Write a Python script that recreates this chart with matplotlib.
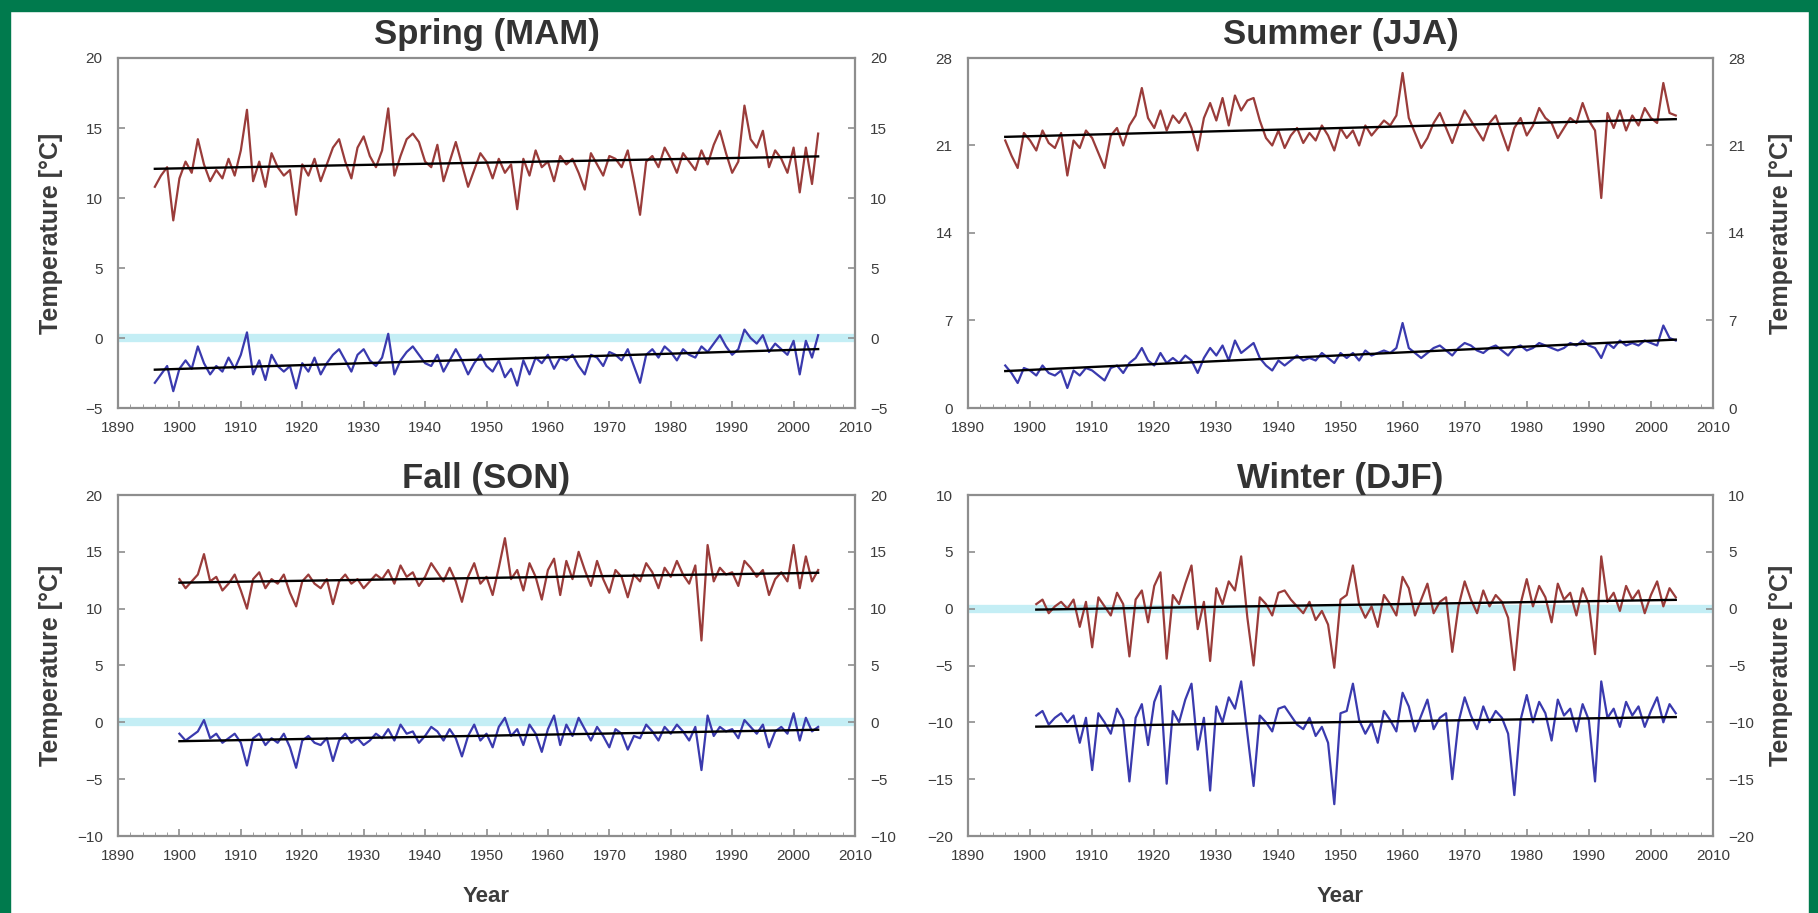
import numpy as np
import matplotlib.pyplot as plt
from matplotlib.patches import Rectangle
from matplotlib.ticker import MultipleLocator

plt.rcParams['font.family'] = ['Liberation Sans', 'DejaVu Sans']

# seasonal max (red) and min (blue) temperatures, one value per year
spring_years = np.arange(1896, 2005)
spring_tmax = [
    10.8, 11.6, 12.2, 8.4, 11.4, 12.6, 11.8, 14.2, 12.4, 11.2,
    12.0, 11.4, 12.8, 11.6, 13.4, 16.3, 11.2, 12.6, 10.8, 13.2,
    12.2, 11.6, 12.0, 8.8, 12.4, 11.6, 12.8, 11.2, 12.4, 13.6,
    14.2, 12.6, 11.4, 13.6, 14.4, 13.0, 12.2, 13.4, 16.4, 11.6,
    13.0, 14.2, 14.6, 14.0, 12.6, 12.2, 13.8, 11.2, 12.6, 14.0,
    12.4, 10.8, 12.0, 13.2, 12.6, 11.4, 12.8, 11.8, 12.4, 9.2,
    12.8, 11.6, 13.4, 12.2, 12.6, 11.2, 13.0, 12.4, 12.8, 11.8,
    10.6, 13.2, 12.4, 11.6, 13.0, 12.8, 12.2, 13.4, 11.2, 8.8,
    12.6, 13.0, 12.2, 13.6, 12.8, 11.8, 13.2, 12.6, 12.0, 13.4,
    12.4, 13.8, 14.8, 13.2, 11.8, 12.6, 16.6, 14.2, 13.6, 14.8,
    12.2, 13.4, 12.8, 11.8, 13.6, 10.4, 13.6, 11.0, 14.6,
]
spring_tmin = [
    -3.2, -2.6, -2.0, -3.8, -2.2, -1.6, -2.2, -0.6, -1.8, -2.6,
    -2.0, -2.4, -1.4, -2.2, -1.2, 0.4, -2.6, -1.6, -3.0, -1.2,
    -2.0, -2.4, -2.0, -3.6, -1.8, -2.4, -1.4, -2.6, -1.8, -1.2,
    -0.8, -1.6, -2.4, -1.2, -0.8, -1.6, -2.0, -1.4, 0.3, -2.6,
    -1.6, -1.0, -0.6, -1.2, -1.8, -2.0, -1.2, -2.4, -1.6, -0.8,
    -1.6, -2.6, -1.8, -1.2, -2.0, -2.4, -1.6, -2.8, -2.2, -3.4,
    -1.6, -2.6, -1.4, -1.8, -1.2, -2.2, -1.4, -1.6, -1.2, -2.0,
    -2.6, -1.2, -1.4, -2.0, -1.0, -1.2, -1.6, -0.8, -2.0, -3.2,
    -1.2, -0.8, -1.4, -0.6, -1.0, -1.6, -0.8, -1.2, -1.4, -0.6,
    -1.0, -0.4, 0.2, -0.6, -1.2, -0.8, 0.6, 0.0, -0.4, 0.2,
    -1.0, -0.4, -0.8, -1.2, -0.2, -2.6, -0.2, -1.4, 0.2,
]

summer_years = np.arange(1896, 2005)
summer_tmax = [
    21.4, 20.2, 19.2, 22.0, 21.4, 20.6, 22.2, 21.2, 20.8, 22.0,
    18.6, 21.4, 20.8, 22.2, 21.6, 20.4, 19.2, 21.8, 22.4, 21.0,
    22.6, 23.4, 25.6, 23.2, 22.4, 23.8, 22.2, 23.4, 22.8, 23.6,
    22.4, 20.6, 23.2, 24.4, 23.0, 24.8, 22.6, 25.0, 23.8, 24.6,
    24.8, 23.0, 21.6, 21.0, 22.2, 20.8, 21.8, 22.4, 21.2, 22.0,
    21.4, 22.6, 21.8, 20.6, 22.4, 21.6, 22.2, 21.0, 22.6, 21.8,
    22.4, 23.0, 22.6, 23.4, 26.8, 23.2, 22.0, 20.8, 21.6, 22.8,
    23.6, 22.4, 21.2, 22.6, 23.8, 23.0, 22.2, 21.4, 22.8, 23.4,
    22.0, 20.6, 22.4, 23.2, 21.8, 22.6, 24.0, 23.2, 22.8, 21.6,
    22.4, 23.2, 22.8, 24.4, 23.0, 22.2, 16.8, 23.6, 22.4, 23.8,
    22.2, 23.4, 22.6, 24.0, 23.2, 22.8, 26.0, 23.6, 23.4,
]
summer_tmin = [
    3.4, 2.8, 2.0, 3.2, 3.0, 2.6, 3.4, 2.8, 2.6, 3.0,
    1.6, 3.0, 2.6, 3.2, 3.0, 2.6, 2.2, 3.2, 3.4, 2.8,
    3.6, 4.0, 4.8, 3.8, 3.4, 4.4, 3.6, 4.0, 3.6, 4.2,
    3.8, 2.8, 4.0, 4.8, 4.2, 5.0, 3.8, 5.4, 4.4, 4.8,
    5.2, 4.0, 3.4, 3.0, 3.8, 3.4, 3.8, 4.2, 3.8, 4.0,
    3.8, 4.4, 4.0, 3.6, 4.4, 4.0, 4.4, 3.8, 4.6, 4.2,
    4.4, 4.6, 4.4, 4.8, 6.8, 4.8, 4.4, 4.0, 4.4, 4.8,
    5.0, 4.6, 4.2, 4.8, 5.2, 5.0, 4.6, 4.4, 4.8, 5.0,
    4.6, 4.2, 4.8, 5.0, 4.6, 4.8, 5.2, 5.0, 4.8, 4.6,
    4.8, 5.2, 5.0, 5.4, 5.0, 4.8, 4.0, 5.2, 4.8, 5.4,
    5.0, 5.2, 5.0, 5.4, 5.2, 5.0, 6.6, 5.6, 5.4,
]

fall_years = np.arange(1900, 2005)
fall_tmax = [
    12.6, 11.8, 12.4, 13.0, 14.8, 12.4, 12.8, 11.6, 12.2, 13.0,
    11.6, 10.0, 12.6, 13.2, 11.8, 12.6, 12.2, 13.0, 11.4, 10.2,
    12.4, 13.0, 12.2, 11.8, 12.6, 10.4, 12.4, 13.0, 12.2, 12.6,
    11.8, 12.4, 13.0, 12.6, 13.4, 12.2, 13.8, 12.8, 13.2, 12.0,
    12.8, 14.0, 13.2, 12.4, 13.6, 12.4, 10.6, 12.8, 14.0, 12.2,
    12.8, 11.2, 13.6, 16.2, 12.6, 13.4, 11.6, 14.0, 12.8, 10.8,
    13.4, 14.4, 11.2, 14.2, 12.6, 15.0, 13.4, 12.0, 14.2, 12.6,
    11.4, 13.4, 12.8, 11.0, 13.0, 12.4, 14.0, 13.2, 11.8, 13.6,
    12.8, 14.2, 13.0, 12.2, 13.8, 7.2, 15.6, 12.4, 13.6, 13.0,
    13.2, 12.0, 14.2, 13.6, 12.8, 13.4, 11.2, 12.6, 13.2, 12.4,
    15.6, 11.8, 14.6, 12.4, 13.4,
]
fall_tmin = [
    -1.0, -1.6, -1.2, -0.8, 0.2, -1.4, -1.0, -1.8, -1.4, -1.0,
    -1.8, -3.8, -1.4, -1.0, -2.0, -1.4, -1.8, -1.0, -2.2, -4.0,
    -1.6, -1.2, -1.8, -2.0, -1.4, -3.4, -1.6, -1.0, -1.8, -1.4,
    -2.0, -1.6, -1.0, -1.4, -0.6, -1.6, -0.2, -1.0, -0.8, -1.8,
    -1.2, -0.4, -0.8, -1.6, -0.6, -1.4, -3.0, -1.2, -0.2, -1.6,
    -1.0, -2.2, -0.4, 0.4, -1.2, -0.6, -2.0, -0.2, -1.0, -2.6,
    -0.6, 0.6, -2.0, -0.2, -1.2, 0.4, -0.6, -1.6, -0.4, -1.2,
    -2.2, -0.6, -1.0, -2.4, -1.2, -1.4, -0.2, -0.8, -1.6, -0.4,
    -1.0, -0.2, -0.8, -1.6, -0.4, -4.2, 0.6, -1.2, -0.4, -0.8,
    -0.6, -1.4, 0.2, -0.4, -1.0, -0.2, -2.2, -0.8, -0.4, -1.0,
    0.8, -1.6, 0.4, -0.8, -0.4,
]

winter_years = np.arange(1901, 2005)
winter_tmax = [
    0.4, 0.8, -0.4, 0.2, 0.6, 0.0, 0.8, -1.6, 0.6, -3.4,
    1.0, 0.2, -0.6, 1.4, 0.4, -4.2, 0.8, 1.6, -1.2, 2.0,
    3.2, -4.4, 1.2, 0.4, 2.2, 3.8, -1.8, 0.6, -4.6, 1.8,
    0.4, 2.4, 1.6, 4.6, -0.8, -5.0, 1.0, 0.4, -0.6, 1.4,
    1.6, 0.8, 0.2, -0.4, 0.6, -1.0, -0.2, -1.4, -5.2, 0.8,
    1.2, 3.8, 0.4, -0.8, 0.2, -1.6, 1.2, 0.4, -0.6, 2.8,
    1.8, -0.6, 0.8, 2.2, -0.4, 0.6, 1.0, -3.8, 0.2, 2.4,
    0.8, -0.4, 1.6, 0.2, 1.2, 0.6, -0.8, -5.4, 0.4, 2.6,
    0.2, 2.0, 1.0, -1.2, 2.2, 0.8, 1.4, -0.6, 1.8, 0.4,
    -4.0, 4.6, 0.6, 1.4, -0.2, 2.0, 0.8, 1.6, -0.4, 1.2,
    2.4, 0.2, 1.8, 1.0,
]
winter_tmin = [
    -9.4, -9.0, -10.2, -9.6, -9.2, -10.0, -9.4, -11.8, -9.6, -14.2,
    -9.2, -10.0, -11.0, -8.8, -9.8, -15.2, -9.6, -8.4, -12.0, -8.2,
    -6.8, -15.4, -9.0, -10.0, -8.0, -6.6, -12.4, -9.6, -16.0, -8.6,
    -10.0, -7.8, -8.8, -6.4, -11.0, -15.6, -9.4, -10.0, -10.8, -8.8,
    -8.6, -9.4, -10.2, -10.6, -9.6, -11.2, -10.4, -11.8, -17.2, -9.2,
    -9.0, -6.6, -9.8, -11.0, -10.0, -11.8, -9.0, -9.8, -10.8, -7.4,
    -8.6, -10.8, -9.4, -8.0, -10.6, -9.6, -9.2, -15.0, -10.0, -7.8,
    -9.4, -10.6, -8.6, -10.0, -9.0, -9.6, -11.0, -16.4, -9.8, -7.6,
    -10.0, -8.2, -9.2, -11.6, -8.0, -9.4, -8.8, -10.8, -8.4, -9.8,
    -15.2, -6.4, -9.6, -8.8, -10.4, -8.2, -9.4, -8.6, -10.4, -9.0,
    -7.8, -10.0, -8.4, -9.2,
]

titles = ['Spring (MAM)', 'Summer (JJA)', 'Fall (SON)', 'Winter (DJF)']
year_ticks = np.arange(1890, 2011, 10)

RED = '#9a3c3a'
BLUE = '#3a3aae'
ZERO = '#c4eef5'
FRAME = '#8e8e8e'
TEXT = '#3c3c3c'

fig = plt.figure(figsize=(18.18, 9.13), dpi=100)
fig.patch.set_facecolor('white')

# green frame round the figure (left, top, right)
W, H = 1818.0, 913.0
green = '#007a4d'
fig.add_artist(Rectangle((0, 0), 10 / W, 1, transform=fig.transFigure, color=green, zorder=10))
fig.add_artist(Rectangle((0, 1 - 11 / H), 1, 11 / H, transform=fig.transFigure, color=green, zorder=10))
fig.add_artist(Rectangle((1 - 9 / W, 0), 9 / W, 1, transform=fig.transFigure, color=green, zorder=10))

panels = [
    ([118 / W, 1 - 408 / H, 737 / W, 350 / H], spring_years, spring_tmax, spring_tmin,
     (-5, 20), np.arange(-5, 21, 5), 'left', True, 10),
    ([968 / W, 1 - 408 / H, 745 / W, 350 / H], summer_years, summer_tmax, summer_tmin,
     (0, 28), np.arange(0, 29, 7), 'right', False, 10),
    ([118 / W, 1 - 836 / H, 737 / W, 341 / H], fall_years, fall_tmax, fall_tmin,
     (-10, 20), np.arange(-10, 21, 5), 'left', True, 5),
    ([968 / W, 1 - 836 / H, 745 / W, 341 / H], winter_years, winter_tmax, winter_tmin,
     (-20, 10), np.arange(-20, 11, 5), 'right', True, 5),
]

for i, (rect, yrs, tmax, tmin, ylim, yticks, side, zero, tpad) in enumerate(panels):
    ax = fig.add_axes(rect)
    if zero:
        ax.axhline(0, color=ZERO, lw=6, zorder=1)
    for vals, col in ((tmax, RED), (tmin, BLUE)):
        ax.plot(yrs, vals, color=col, lw=1.6, zorder=2)
        fit = np.polyfit(yrs, vals, 1)
        ax.plot(yrs, np.polyval(fit, yrs), color='black', lw=1.7, zorder=3)

    ax.set_xlim(1890, 2010)
    ax.set_xticks(year_ticks)
    ax.xaxis.set_minor_locator(MultipleLocator(2))
    ax.set_ylim(*ylim)
    ax.set_yticks(yticks)

    for sp in ax.spines.values():
        sp.set_color(FRAME)
        sp.set_linewidth(1.6)
    ax.tick_params(axis='both', which='major', direction='in', length=5, width=1.2,
                   color=FRAME, labelcolor=TEXT, labelsize=11,
                   left=True, right=True, labelleft=True, labelright=True)
    ax.tick_params(axis='x', which='major', pad=9)
    ax.tick_params(axis='y', which='major', pad=11)
    ax.tick_params(axis='x', which='minor', direction='in', length=3, color=FRAME)

    ax.set_title(titles[i], fontsize=25, fontweight='bold', color='#333333', pad=tpad)

    if side == 'left':
        ax.set_ylabel('Temperature [°C]', fontsize=18, fontweight='bold', color=TEXT)
        ax.yaxis.set_label_coords(-0.075, 0.5)
    else:
        ax.yaxis.set_label_position('right')
        ax.set_ylabel('Temperature [°C]', fontsize=18, fontweight='bold', color=TEXT,
                      rotation=90)
        ax.yaxis.set_label_coords(1.075, 0.5)

    if i >= 2:
        ax.set_xlabel('Year', fontsize=16, fontweight='bold', color=TEXT)
        ax.xaxis.set_label_coords(0.5, -0.148)

fig.savefig('out.png', dpi=100)
